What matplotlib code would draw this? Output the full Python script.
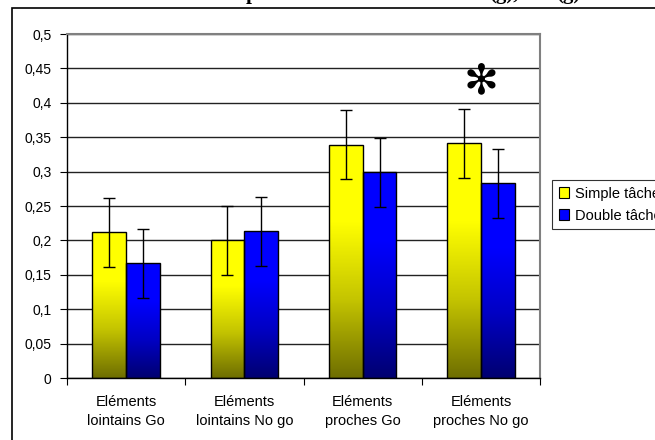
import matplotlib
matplotlib.use("Agg")
import matplotlib.pyplot as plt
import numpy as np
from matplotlib.colors import LinearSegmentedColormap
from matplotlib.patches import Rectangle

categories = ["Eléments\nlointains Go", "Eléments\nlointains No go",
              "Eléments\nproches Go", "Eléments\nproches No go"]
series_names = ["Simple tâche", "Double tâche"]
simple = [0.212, 0.200, 0.339, 0.341]
simple_err = [0.050, 0.050, 0.050, 0.050]
double = [0.167, 0.213, 0.299, 0.283]
double_err = [0.050, 0.050, 0.050, 0.050]
yticks = [0, 0.05, 0.1, 0.15, 0.2, 0.25, 0.3, 0.35, 0.4, 0.45, 0.5]
ytick_labels = ["0", "0,05", "0,1", "0,15", "0,2", "0,25", "0,3", "0,35", "0,4", "0,45", "0,5"]
star_category = 3

plt.rcParams['font.family'] = ['Liberation Sans', 'DejaVu Sans']

W, H = 655, 440
fig = plt.figure(figsize=(W / 100, H / 100), dpi=100)
ax = fig.add_axes([67 / W, 1 - 378 / H, (540 - 67) / W, (378 - 34) / H])

# outer chart border
fig.add_artist(Rectangle((12 / W, -0.1), 1.2, 1 - 8 / H + 0.1, transform=fig.transFigure,
                         fill=False, edgecolor='black', linewidth=1.2))

# title (mostly above the visible area, only descenders remain)
for tx, s in [(246, "p"), (489, "(g),"), (556, "(g)")]:
    fig.text(tx / W, 1 + 1 / H, s, fontfamily='Liberation Serif', fontweight='bold',
             fontsize=15, va='baseline', ha='left')

x = np.arange(len(categories))
bw = 1 / 3.5

cmap_y = LinearSegmentedColormap.from_list('y', ['#6e6e00', '#c4c400', '#ffff00', '#ffff00'])
cmap_b = LinearSegmentedColormap.from_list('b', ['#000070', '#0000c4', '#0000ff', '#0000ff'])
grad = np.linspace(0, 1, 256).reshape(-1, 1)

ax.set_xlim(-0.5, len(categories) - 0.5)
ax.set_ylim(0, 0.5)

for vals, errs, offset, cmap in [(simple, simple_err, -bw / 2, cmap_y),
                                 (double, double_err, bw / 2, cmap_b)]:
    bars = ax.bar(x + offset, vals, width=bw, color='none', edgecolor='black',
                  linewidth=1.0, zorder=3)
    for b in bars:
        x0, y0 = b.get_x(), b.get_y()
        w, h = b.get_width(), b.get_height()
        im = ax.imshow(grad, cmap=cmap, aspect='auto', origin='lower',
                       extent=[x0, x0 + w, y0, y0 + h], zorder=2)
        im.set_clip_path(b)
    ax.errorbar(x + offset, vals, yerr=errs, fmt='none', ecolor='black',
                elinewidth=1.0, capsize=4, capthick=1.0, zorder=4)

ax.set_aspect('auto')
ax.set_xlim(-0.5, len(categories) - 0.5)
ax.set_ylim(0, 0.5)

ax.set_yticks(yticks)
ax.set_yticklabels(ytick_labels, fontsize=10)
ax.yaxis.grid(True, color='#222222', linewidth=1.0, zorder=0)
ax.set_axisbelow(True)

ax.set_xticks(np.arange(len(categories) + 1) - 0.5)
ax.set_xticklabels([])
ax.set_xticks(x, minor=True)
ax.set_xticklabels(categories, minor=True, fontsize=10.5, linespacing=1.45)
ax.tick_params(axis='x', which='minor', length=0, pad=12)
ax.tick_params(axis='x', which='major', length=5, direction='out', color='black')
ax.tick_params(axis='y', length=5, direction='out', color='black', pad=6)

for s in ['top', 'right']:
    ax.spines[s].set_color('#808080')
    ax.spines[s].set_linewidth(1.5)
for s in ['left', 'bottom']:
    ax.spines[s].set_color('black')
    ax.spines[s].set_linewidth(1.0)

# significance marker
ax.text(x[star_category], simple[star_category] + simple_err[star_category] + 0.040, "✻",
        ha='center', va='center', fontsize=30, fontfamily='DejaVu Sans', zorder=5)

# legend
handles = [Rectangle((0, 0), 1, 1, facecolor='#ffff00', edgecolor='black', linewidth=0.8),
           Rectangle((0, 0), 1, 1, facecolor='#0000ff', edgecolor='black', linewidth=0.8)]
leg = fig.legend(handles, series_names, loc='upper left',
                 bbox_to_anchor=(552 / W, 1 - 180 / H), fontsize=10.5,
                 frameon=True, fancybox=False, edgecolor='black',
                 handlelength=0.7, handleheight=0.7, handletextpad=0.4,
                 borderpad=0.45, labelspacing=0.55, borderaxespad=0)
leg.get_frame().set_linewidth(0.8)

fig.savefig("out.png", dpi=100)
